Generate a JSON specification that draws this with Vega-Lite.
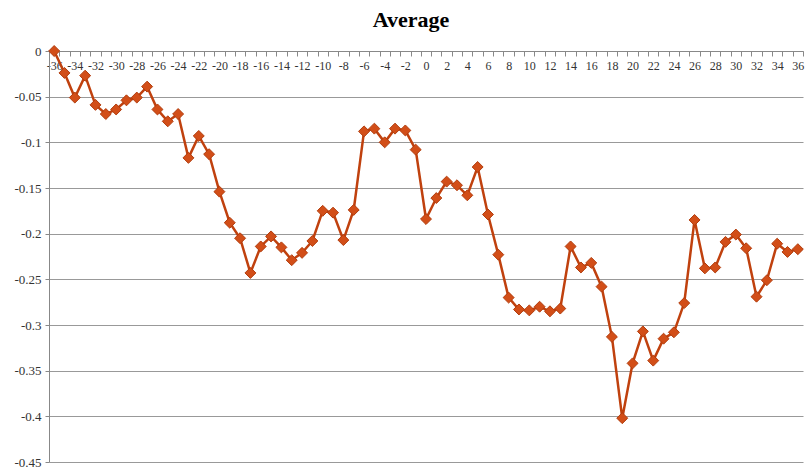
{
  "$schema": "https://vega.github.io/schema/vega-lite/v6.json",
  "width": 754,
  "height": 411,
  "autosize": {"type": "none"},
  "padding": {"left": 49, "top": 51, "right": 2, "bottom": 5},
  "title": {"text": "Average", "font": "Liberation Serif", "fontSize": 22, "fontWeight": "bold", "color": "#000000", "anchor": "middle", "offset": 12, "dx": -15},
  "config": {"view": {"stroke": null}, "font": "Liberation Serif"},
  "data": {"values": [
    {"t": -36, "v": 0}, {"t": -35, "v": -0.024}, {"t": -34, "v": -0.051}, {"t": -33, "v": -0.027},
    {"t": -32, "v": -0.059}, {"t": -31, "v": -0.069}, {"t": -30, "v": -0.064}, {"t": -29, "v": -0.054},
    {"t": -28, "v": -0.051}, {"t": -27, "v": -0.039}, {"t": -26, "v": -0.064}, {"t": -25, "v": -0.077},
    {"t": -24, "v": -0.069}, {"t": -23, "v": -0.117}, {"t": -22, "v": -0.093}, {"t": -21, "v": -0.113},
    {"t": -20, "v": -0.154}, {"t": -19, "v": -0.188}, {"t": -18, "v": -0.205}, {"t": -17, "v": -0.243},
    {"t": -16, "v": -0.214}, {"t": -15, "v": -0.203}, {"t": -14, "v": -0.215}, {"t": -13, "v": -0.229},
    {"t": -12, "v": -0.221}, {"t": -11, "v": -0.208}, {"t": -10, "v": -0.175}, {"t": -9, "v": -0.177},
    {"t": -8, "v": -0.207}, {"t": -7, "v": -0.174}, {"t": -6, "v": -0.088}, {"t": -5, "v": -0.085},
    {"t": -4, "v": -0.100}, {"t": -3, "v": -0.085}, {"t": -2, "v": -0.087}, {"t": -1, "v": -0.108},
    {"t": 0, "v": -0.184}, {"t": 1, "v": -0.161}, {"t": 2, "v": -0.143}, {"t": 3, "v": -0.147},
    {"t": 4, "v": -0.158}, {"t": 5, "v": -0.127}, {"t": 6, "v": -0.179}, {"t": 7, "v": -0.223},
    {"t": 8, "v": -0.270}, {"t": 9, "v": -0.283}, {"t": 10, "v": -0.284}, {"t": 11, "v": -0.280},
    {"t": 12, "v": -0.285}, {"t": 13, "v": -0.282}, {"t": 14, "v": -0.214}, {"t": 15, "v": -0.237},
    {"t": 16, "v": -0.232}, {"t": 17, "v": -0.258}, {"t": 18, "v": -0.313}, {"t": 19, "v": -0.402},
    {"t": 20, "v": -0.342}, {"t": 21, "v": -0.307}, {"t": 22, "v": -0.339}, {"t": 23, "v": -0.315},
    {"t": 24, "v": -0.308}, {"t": 25, "v": -0.276}, {"t": 26, "v": -0.185}, {"t": 27, "v": -0.238},
    {"t": 28, "v": -0.237}, {"t": 29, "v": -0.209}, {"t": 30, "v": -0.201}, {"t": 31, "v": -0.216},
    {"t": 32, "v": -0.269}, {"t": 33, "v": -0.251}, {"t": 34, "v": -0.211}, {"t": 35, "v": -0.220},
    {"t": 36, "v": -0.217}
  ]},
  "layer": [
    {
      "mark": {"type": "line", "color": "#C0410E", "strokeWidth": 2.5},
      "encoding": {
        "x": {
          "field": "t", "type": "quantitative",
          "scale": {"domain": [-36.5, 36.5], "nice": false, "zero": false},
          "axis": {
            "orient": "bottom", "offset": -411, "title": null,
            "values": [-36,-34,-32,-30,-28,-26,-24,-22,-20,-18,-16,-14,-12,-10,-8,-6,-4,-2,0,2,4,6,8,10,12,14,16,18,20,22,24,26,28,30,32,34,36],
            "labelExpr": "toString(datum.value)",
            "ticks": false, "grid": false, "domain": true, "domainColor": "#888888", "domainWidth": 1,
            "labelFont": "Liberation Serif", "labelFontSize": 12, "labelColor": "#333333",
            "labelPadding": 9, "labelFlush": false, "labelOverlap": false
          }
        },
        "y": {
          "field": "v", "type": "quantitative",
          "scale": {"domain": [-0.45, 0], "nice": false, "zero": false},
          "axis": {
            "title": null,
            "values": [0, -0.05, -0.1, -0.15, -0.2, -0.25, -0.3, -0.35, -0.4, -0.45],
            "labelExpr": "toString(round(datum.value*100)/100)",
            "grid": true, "gridColor": "#999999", "gridWidth": 1,
            "domainColor": "#888888", "tickColor": "#888888", "tickSize": 4,
            "labelFont": "Liberation Serif", "labelFontSize": 13, "labelColor": "#333333",
            "labelPadding": 4, "labelFlush": false, "labelOverlap": false
          }
        }
      }
    },
    {
      "mark": {"type": "point", "shape": "diamond", "filled": true, "size": 120, "color": "#D24E18", "stroke": "#B23D0D", "strokeWidth": 1, "opacity": 1},
      "encoding": {
        "x": {
          "field": "t", "type": "quantitative",
          "axis": {
            "orient": "bottom", "offset": -411, "title": null,
            "values": [-36.5,-35.5,-34.5,-33.5,-32.5,-31.5,-30.5,-29.5,-28.5,-27.5,-26.5,-25.5,-24.5,-23.5,-22.5,-21.5,-20.5,-19.5,-18.5,-17.5,-16.5,-15.5,-14.5,-13.5,-12.5,-11.5,-10.5,-9.5,-8.5,-7.5,-6.5,-5.5,-4.5,-3.5,-2.5,-1.5,-0.5,0.5,1.5,2.5,3.5,4.5,5.5,6.5,7.5,8.5,9.5,10.5,11.5,12.5,13.5,14.5,15.5,16.5,17.5,18.5,19.5,20.5,21.5,22.5,23.5,24.5,25.5,26.5,27.5,28.5,29.5,30.5,31.5,32.5,33.5,34.5,35.5,36.5],
            "labels": false, "domain": false, "grid": false,
            "ticks": true, "tickSize": 5, "tickColor": "#888888", "tickWidth": 1
          }
        },
        "y": {"field": "v", "type": "quantitative"}
      }
    }
  ],
  "resolve": {"axis": {"x": "independent"}}
}
